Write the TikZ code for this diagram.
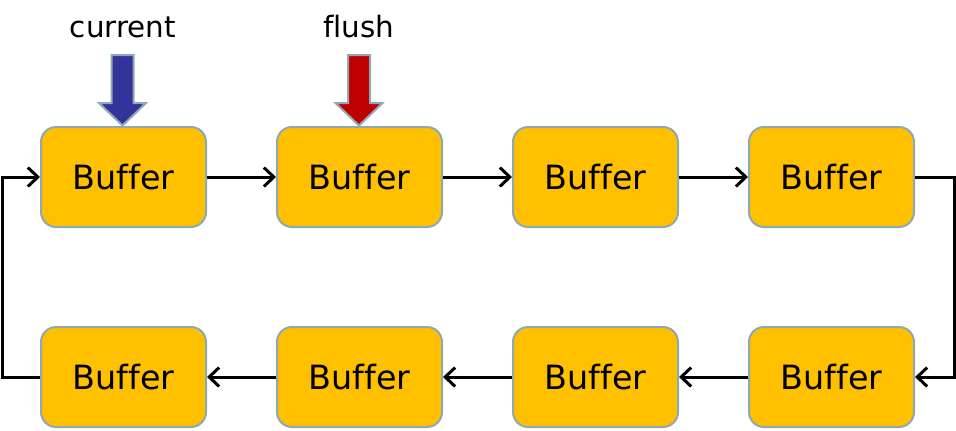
\documentclass[tikz,border=0pt]{standalone}
\usepackage{fontspec}
\setmainfont{DejaVu Sans}[Ligatures=NoCommon]
\usepackage{tikz}
\usetikzlibrary{arrows.meta}
\definecolor{buf}{HTML}{FFC000}
\definecolor{bord}{HTML}{8EA9B4}
\definecolor{cur}{HTML}{333399}
\definecolor{fl}{HTML}{C00000}
\tikzstyle{buffer}=[draw=bord, fill=buf, line width=1pt, rounded corners=7.5pt, minimum width=82.5pt, minimum height=50pt, font=\fontsize{16.7}{20}\selectfont]
\tikzstyle{link}=[line width=1.5pt, -{Straight Barb[length=5pt,width=9.5pt]}]
\tikzstyle{label}=[font=\fontsize{14.7}{18}\selectfont]
\tikzstyle{marker}=[draw=bord, line width=1pt]

\begin{document}
\begin{tikzpicture}[x=0.5pt,y=-0.5pt]
\useasboundingbox (0,0) rectangle (956,430);

\node[buffer] (b1) at (123.5,177) {Buffer};
\node[buffer] (b2) at (359.5,177) {Buffer};
\node[buffer] (b3) at (595.5,177) {Buffer};
\node[buffer] (b4) at (831.5,177) {Buffer};

\node[buffer] (b5) at (831.5,377) {Buffer};
\node[buffer] (b6) at (595.5,377) {Buffer};
\node[buffer] (b7) at (359.5,377) {Buffer};
\node[buffer] (b8) at (123.5,377) {Buffer};

\draw[link] (b1) -- (b2);
\draw[link] (b2) -- (b3);
\draw[link] (b3) -- (b4);
\draw[link] (b4.east) -- ++(39,0) |- (b5.east);
\draw[link] (b5) -- (b6);
\draw[link] (b6) -- (b7);
\draw[link] (b7) -- (b8);
\draw[link] (b8.west) -- ++(-38,0) |- (b1.west);

% pointers
\node[label] (cur) at (123,27) {current};
\node[label] (fls) at (359,27) {flush};
\draw[marker, fill=cur] (111.5,55) -- (133.5,55) -- (133.5,103) -- (146,103) -- (122.5,125.5)
  -- (99,103) -- (111.5,103) -- cycle;
\draw[marker, fill=fl] (348,55) -- (370,55) -- (370,103) -- (382.5,103) -- (359,125.5)
  -- (335.5,103) -- (348,103) -- cycle;

\end{tikzpicture}
\end{document}
